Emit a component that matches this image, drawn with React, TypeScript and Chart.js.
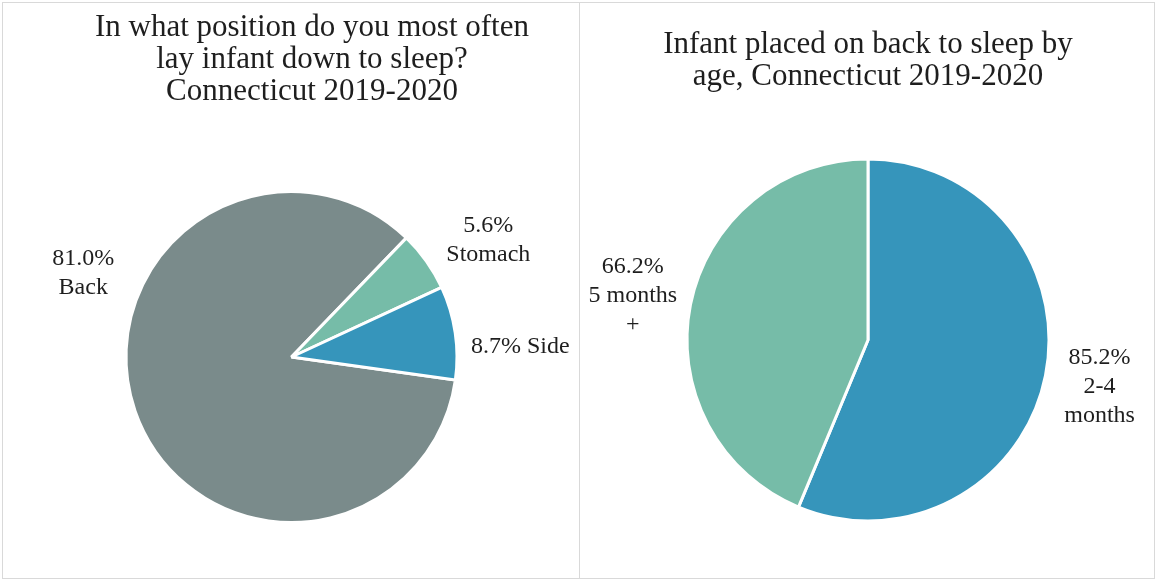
import React, { useEffect, useRef } from "react";
import { Chart, registerables } from "chart.js";

Chart.register(...registerables);

// ---- Data ----
const leftTitle = [
  "In what position do you most often",
  "lay infant down to sleep?",
  "Connecticut 2019-2020",
];
const leftCategories = ["Back", "Stomach", "Side"];
const leftValues = [81.0, 5.6, 8.7];
const leftSeparators = ["\n", "\n", " "];

const rightTitle = ["Infant placed on back to sleep by", "age, Connecticut 2019-2020"];
const rightCategories = ["2-4\nmonths", "5 months\n+"];
const rightValues = [85.2, 66.2];
const rightSeparators = ["\n", "\n"];

// ---- Styles ----
const GRAY = "#7a8b8b";
const GREEN = "#76bca8";
const BLUE = "#3695bb";
const leftColors = [GRAY, GREEN, BLUE];
const rightColors = [BLUE, GREEN];
const FONT = "'Liberation Serif', 'Times New Roman', serif";
const TEXT = "#1e1e1e";

// label offsets from pie centre, in units of the pie radius
const leftLabelOffsets = [
  [-1.27, -0.51],
  [1.2, -0.715],
  [1.395, -0.06],
];
const rightLabelOffsets = [
  [1.29, 0.26],
  [-1.31, -0.245],
];

const titlePlugin = {
  id: "panelTitle",
  afterDraw(chart: any, _args: any, opts: any) {
    if (!opts || !opts.lines) return;
    const ctx = chart.ctx;
    ctx.save();
    ctx.font = `${opts.size}px ${FONT}`;
    ctx.fillStyle = TEXT;
    ctx.textAlign = "center";
    ctx.textBaseline = "alphabetic";
    opts.lines.forEach((line: string, i: number) => {
      ctx.fillText(line, opts.x, opts.y + i * opts.lineHeight);
    });
    ctx.restore();
  },
};

const pieLabelPlugin = {
  id: "pieLabels",
  afterDatasetsDraw(chart: any, _args: any, opts: any) {
    if (!opts || !opts.offsets) return;
    const ctx = chart.ctx;
    const meta = chart.getDatasetMeta(0);
    const ds = chart.data.datasets[0];
    ctx.save();
    ctx.font = `${opts.size}px ${FONT}`;
    ctx.fillStyle = TEXT;
    ctx.textAlign = "center";
    ctx.textBaseline = "middle";
    meta.data.forEach((arc: any, i: number) => {
      const { x, y, outerRadius } = arc.getProps(["x", "y", "outerRadius"], true);
      const r = outerRadius - 1.5;
      const [ox, oy] = opts.offsets[i];
      const cx = x + ox * r;
      const cy = y + oy * r;
      const text = `${Number(ds.data[i]).toFixed(1)}%${opts.separators[i]}${chart.data.labels[i]}`;
      const lines = text.split("\n");
      lines.forEach((line: string, j: number) => {
        ctx.fillText(line, cx, cy + (j - (lines.length - 1) / 2) * opts.lineHeight);
      });
    });
    ctx.restore();
  },
};

type PieProps = {
  width: number;
  height: number;
  left: number;
  labels: string[];
  values: number[];
  colors: string[];
  rotation: number;
  radius: number;
  padding: { left: number; right: number; top: number; bottom: number };
  title: { lines: string[]; x: number; y: number };
  offsets: number[][];
  separators: string[];
};

function PiePanel(p: PieProps) {
  const ref = useRef<HTMLCanvasElement | null>(null);
  useEffect(() => {
    if (!ref.current) return;
    const chart = new Chart(ref.current, {
      type: "pie",
      data: {
        labels: p.labels,
        datasets: [
          {
            data: p.values,
            backgroundColor: p.colors,
            borderColor: "#ffffff",
            borderWidth: 3,
          },
        ],
      },
      options: {
        responsive: false,
        animation: false,
        devicePixelRatio: 1,
        rotation: p.rotation,
        radius: p.radius,
        layout: { padding: p.padding },
        plugins: {
          legend: { display: false },
          tooltip: { enabled: false },
          panelTitle: { ...p.title, size: 31, lineHeight: 32 },
          pieLabels: { offsets: p.offsets, separators: p.separators, size: 24, lineHeight: 29 },
        } as any,
      } as any,
      plugins: [titlePlugin, pieLabelPlugin],
    });
    return () => chart.destroy();
  }, []);
  return (
    <canvas
      ref={ref}
      width={p.width}
      height={p.height}
      style={{ position: "absolute", left: p.left, top: 0, width: p.width, height: p.height }}
    />
  );
}

export default function App() {
  const border = "1.5px solid #d9d9d9";
  return (
    <div style={{ position: "absolute", left: 0, top: 0, width: 1156, height: 580, background: "#fff", overflow: "hidden" }}>
      <div style={{ position: "absolute", left: 2, top: 2, width: 578, height: 577, border, boxSizing: "border-box" }} />
      <div style={{ position: "absolute", left: 579, top: 2, width: 576, height: 577, border, boxSizing: "border-box" }} />
      <PiePanel
        width={579}
        height={580}
        left={0}
        labels={leftCategories}
        values={leftValues}
        colors={leftColors}
        rotation={98}
        radius={165.5}
        padding={{ left: 127, right: 123, top: 190, bottom: 56 }}
        title={{ lines: leftTitle, x: 312, y: 36 }}
        offsets={leftLabelOffsets}
        separators={leftSeparators}
      />
      <PiePanel
        width={577}
        height={580}
        left={579}
        labels={rightCategories}
        values={rightValues}
        colors={rightColors}
        rotation={0}
        radius={181}
        padding={{ left: 110, right: 109, top: 160, bottom: 60 }}
        title={{ lines: rightTitle, x: 289, y: 53 }}
        offsets={rightLabelOffsets}
        separators={rightSeparators}
      />
    </div>
  );
}
